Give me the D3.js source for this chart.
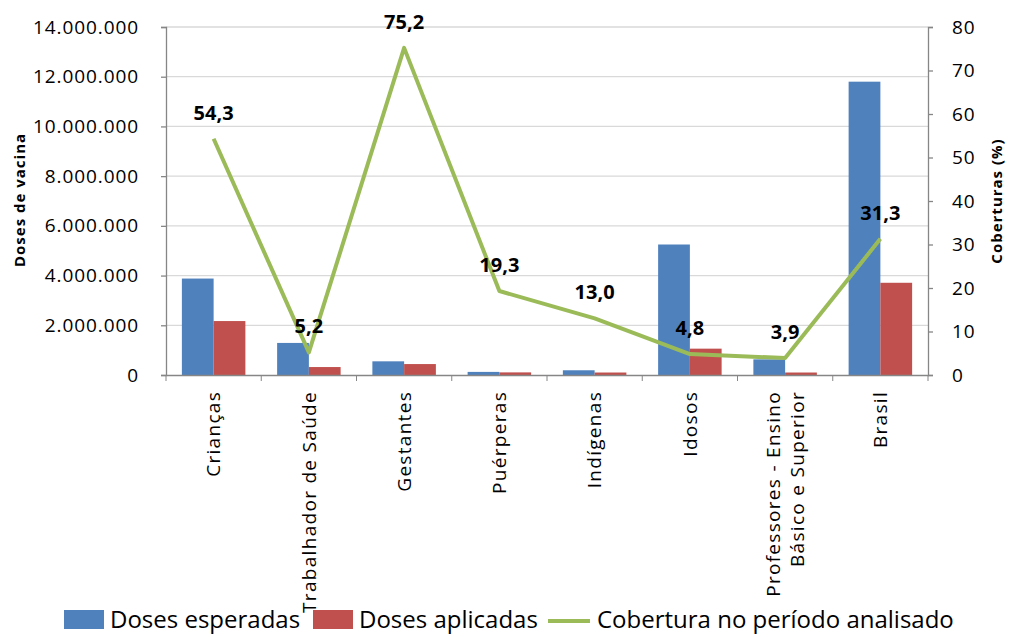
<!DOCTYPE html>
<html>
<head>
<meta charset="utf-8">
<script src="https://cdn.jsdelivr.net/npm/d3@7"></script>
<style>
  body { margin: 0; background: #fff; }
  text { font-family: "Open Sans", sans-serif; fill: #000; }
</style>
</head>
<body>
<svg id="chart" width="1009" height="637"></svg>
<script>
// categories and series
var categories = ["Crianças", "Trabalhador de Saúde", "Gestantes", "Puérperas",
                  "Indígenas", "Idosos", "Professores - Ensino|Básico e Superior", "Brasil"];
var dosesEsperadas = [3880000, 1290000, 550000, 125000, 190000, 5250000, 630000, 11800000];
var dosesAplicadas = [2170000, 320000, 440000, 105000, 100000, 1060000, 100000, 3710000];
var cobertura = [54.3, 5.2, 75.2, 19.3, 13.0, 4.8, 3.9, 31.3];
var leftTicks = [0, 2000000, 4000000, 6000000, 8000000, 10000000, 12000000, 14000000];
var rightTicks = [0, 10, 20, 30, 40, 50, 60, 70, 80];
var seriesNames = ["Doses esperadas", "Doses aplicadas", "Cobertura no período analisado"];
var colors = ["#4f81bd", "#c0504d", "#9bbb59"];

var plot = {left: 166, right: 928, top: 27, bottom: 375};
var svg = d3.select("#chart");

var x0 = d3.scaleBand().domain(categories).range([plot.left, plot.right]).padding(0);
var x1 = d3.scaleBand().domain([0, 1]).range([0, x0.bandwidth()]).paddingInner(0).paddingOuter(0.5);
var yL = d3.scaleLinear().domain([0, 14000000]).range([plot.bottom, plot.top]);
var yR = d3.scaleLinear().domain([0, 80]).range([plot.bottom, plot.top]);

var ptBR = d3.formatLocale({decimal: ",", thousands: ".", grouping: [3], currency: ["R$", ""]});
var fmtL = ptBR.format(",d");
var fmtV = ptBR.format(",.1f");

// gridlines
svg.append("g").selectAll("line")
  .data(leftTicks.slice(1))
  .enter().append("line")
  .attr("x1", plot.left).attr("x2", plot.right)
  .attr("y1", function(d) { return yL(d); })
  .attr("y2", function(d) { return yL(d); })
  .style("stroke", "#d9d9d9").style("stroke-width", 1.3);

// bars
var groups = svg.append("g").selectAll("g")
  .data(categories)
  .enter().append("g")
  .attr("transform", function(d) { return "translate(" + x0(d) + ",0)"; });
[dosesEsperadas, dosesAplicadas].forEach(function(vals, s) {
  groups.append("rect")
    .attr("x", x1(s))
    .attr("width", x1.bandwidth())
    .attr("y", function(d, i) { return yL(vals[i]); })
    .attr("height", function(d, i) { return plot.bottom - yL(vals[i]); })
    .style("fill", colors[s]);
});

// left axis
var axL = svg.append("g")
  .attr("transform", "translate(" + plot.left + ",0)")
  .call(d3.axisLeft(yL).tickValues(leftTicks).tickFormat(fmtL).tickSize(5).tickPadding(22));
axL.selectAll("text").style("font-size", "19px").style("letter-spacing", "0.9px");

// right axis
var axR = svg.append("g")
  .attr("transform", "translate(" + plot.right + ",0)")
  .call(d3.axisRight(yR).tickValues(rightTicks).tickSize(5).tickPadding(19));
axR.selectAll("text").style("font-size", "19px").style("letter-spacing", "0.9px");

// bottom axis
var axB = svg.append("g")
  .attr("transform", "translate(0," + plot.bottom + ")")
  .call(d3.axisBottom(x0).tickSize(0).tickFormat(""));
svg.append("g").selectAll("line")
  .data(categories.concat(["end"]))
  .enter().append("line")
  .attr("x1", function(d, i) { return plot.left + i * x0.step(); })
  .attr("x2", function(d, i) { return plot.left + i * x0.step(); })
  .attr("y1", plot.bottom).attr("y2", plot.bottom + 6)
  .style("stroke", "#868686");

[axL, axR, axB].forEach(function(a) {
  a.selectAll("path, line").style("stroke", "#868686").style("stroke-width", 1.3);
});

// category labels, rotated
categories.forEach(function(c) {
  var lines = c.split("|");
  var cx = x0(c) + x0.bandwidth() / 2;
  lines.forEach(function(t, k) {
    svg.append("text")
      .attr("transform", "translate(" + (cx + (k - (lines.length - 1) / 2) * 24) + "," + (plot.bottom + 16) + ") rotate(-90)")
      .attr("text-anchor", "end")
      .attr("dy", "0.35em")
      .style("font-size", "19px")
      .style("letter-spacing", "1.3px")
      .text(t);
  });
});

// coverage line
var line = d3.line()
  .x(function(d, i) { return x0(categories[i]) + x0.bandwidth() / 2; })
  .y(function(d) { return yR(d); });
svg.append("path")
  .datum(cobertura)
  .attr("d", line)
  .style("fill", "none")
  .style("stroke", colors[2])
  .style("stroke-width", 4)
  .style("stroke-linejoin", "round");

svg.append("g").selectAll("text")
  .data(cobertura)
  .enter().append("text")
  .attr("x", function(d, i) { return x0(categories[i]) + x0.bandwidth() / 2; })
  .attr("y", function(d) { return yR(d) - 26; })
  .attr("text-anchor", "middle")
  .attr("dy", "0.35em")
  .style("font-size", "20px")
  .style("font-weight", "bold")
  .text(function(d) { return fmtV(d); });

// axis titles
svg.append("text")
  .attr("transform", "translate(20,200) rotate(-90)")
  .attr("text-anchor", "middle")
  .attr("dy", "0.35em")
  .style("font-size", "15px")
  .style("font-weight", "bold")
  .style("letter-spacing", "1px")
  .text("Doses de vacina");
svg.append("text")
  .attr("transform", "translate(997,201) rotate(-90)")
  .attr("text-anchor", "middle")
  .attr("dy", "0.35em")
  .style("font-size", "15px")
  .style("font-weight", "bold")
  .style("letter-spacing", "1px")
  .text("Coberturas (%)");

// legend
var legX = [64, 313, 548];
var leg = svg.append("g");
seriesNames.forEach(function(n, i) {
  if (i < 2) {
    leg.append("rect").attr("x", legX[i]).attr("y", 610).attr("width", 40).attr("height", 19)
      .style("fill", colors[i]);
  } else {
    leg.append("line").attr("x1", legX[i]).attr("x2", legX[i] + 42)
      .attr("y1", 621).attr("y2", 621)
      .style("stroke", colors[i]).style("stroke-width", 4);
  }
  leg.append("text")
    .attr("x", legX[i] + (i < 2 ? 46 : 49))
    .attr("y", 620)
    .attr("dy", "0.35em")
    .style("font-size", "24px")
    .text(n);
});
</script>
</body>
</html>
